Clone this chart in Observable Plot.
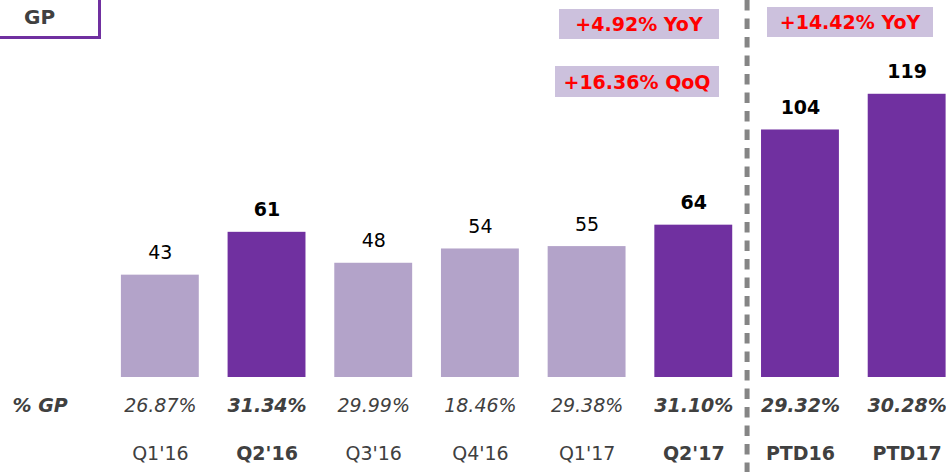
<!DOCTYPE html>
<html>
<head>
<meta charset="utf-8">
<script src="https://cdn.jsdelivr.net/npm/d3@7"></script>
<script src="https://cdn.jsdelivr.net/npm/@observablehq/plot@0.6"></script>
<style>
  html, body { margin: 0; padding: 0; background: #fff; }
  #wrap { position: relative; width: 946px; height: 472px; overflow: hidden; font-family: "DejaVu Sans", sans-serif; }
  .box { position: absolute; box-sizing: border-box; display: flex; align-items: center; justify-content: center; font-weight: bold; }
  .gp { left: 0; top: 0; width: 101px; height: 39px; background: #fff; border-right: 3px solid #7030a0; border-bottom: 3px solid #7030a0; color: #404040; font-size: 20px; justify-content: flex-start; padding-left: 24px; padding-bottom: 3px; }
  .ann { background: #ccc1dd; color: #ff0000; font-size: 19px; }
</style>
</head>
<body>
<div id="wrap"></div>
<script>
const categories = ["Q1'16", "Q2'16", "Q3'16", "Q4'16", "Q1'17", "Q2'17", "PTD16", "PTD17"];
const gpValues = [43, 61, 48, 54, 55, 64, 104, 119];
const gpPercent = ["26.87%", "31.34%", "29.99%", "18.46%", "29.38%", "31.10%", "29.32%", "30.28%"];
const highlighted = [false, true, false, false, false, true, true, true];
const rowLabel = "% GP";
const panelTitle = "GP";
const annotations = [
  {text: "+4.92% YoY", left: 559, top: 9, width: 160, height: 30},
  {text: "+16.36% QoQ", left: 555, top: 66, width: 164, height: 31},
  {text: "+14.42% YoY", left: 767, top: 7, width: 166, height: 30}
];
const dividerBefore = "PTD16";

const data = categories.map((c, i) => ({cat: c, value: gpValues[i], pct: gpPercent[i], hi: highlighted[i]}));
const light = "#b3a3c9", dark = "#7030a0";

const chart = Plot.plot({
  width: 946,
  height: 472,
  marginLeft: 0,
  marginRight: 0,
  marginTop: 0,
  marginBottom: 95,
  style: {fontFamily: "DejaVu Sans, sans-serif", background: "transparent", overflow: "visible"},
  x: {domain: categories, range: [106.5, 960], paddingInner: 0.27, paddingOuter: 0.135, round: false, axis: null},
  y: {domain: [0, 158.4], axis: null},
  marks: [
    Plot.barY(data, {x: "cat", y: "value", fill: d => d.hi ? dark : light}),
    Plot.text(data.filter(d => !d.hi), {x: "cat", y: "value", text: d => String(d.value), dy: -22, fontSize: 19, fill: "#000"}),
    Plot.text(data.filter(d => d.hi), {x: "cat", y: "value", text: d => String(d.value), dy: -22, fontSize: 19, fontWeight: "bold", fill: "#000"}),
    Plot.text(data.filter(d => !d.hi), {x: "cat", frameAnchor: "bottom", text: "pct", dy: 34, fontSize: 19, fontStyle: "italic", fill: "#404040"}),
    Plot.text(data.filter(d => d.hi), {x: "cat", frameAnchor: "bottom", text: "pct", dy: 34, fontSize: 19, fontStyle: "italic", fontWeight: "bold", fill: "#404040"}),
    Plot.text(data.filter(d => !d.hi), {x: "cat", frameAnchor: "bottom", text: "cat", dy: 82, fontSize: 19, fill: "#404040"}),
    Plot.text(data.filter(d => d.hi), {x: "cat", frameAnchor: "bottom", text: "cat", dy: 82, fontSize: 19, fontWeight: "bold", fill: "#404040"}),
    Plot.text([rowLabel], {frameAnchor: "bottom-left", text: d => d, dx: 12, dy: 34, textAnchor: "start", fontSize: 19, fontStyle: "italic", fontWeight: "bold", fill: "#404040"}),
    Plot.ruleX([dividerBefore], {x: d => d, dx: -53.4, stroke: "#858585", strokeWidth: 5, strokeDasharray: "10.5,8", insetBottom: -95})
  ]
});

const wrap = document.getElementById("wrap");
wrap.appendChild(chart);
const gp = document.createElement("div");
gp.className = "box gp";
gp.textContent = panelTitle;
wrap.appendChild(gp);
for (const a of annotations) {
  const el = document.createElement("div");
  el.className = "box ann";
  el.style.left = a.left + "px";
  el.style.top = a.top + "px";
  el.style.width = a.width + "px";
  el.style.height = a.height + "px";
  el.textContent = a.text;
  wrap.appendChild(el);
}
chart.style.position = "absolute";
chart.style.left = "0";
chart.style.top = "0";
</script>
</body>
</html>
